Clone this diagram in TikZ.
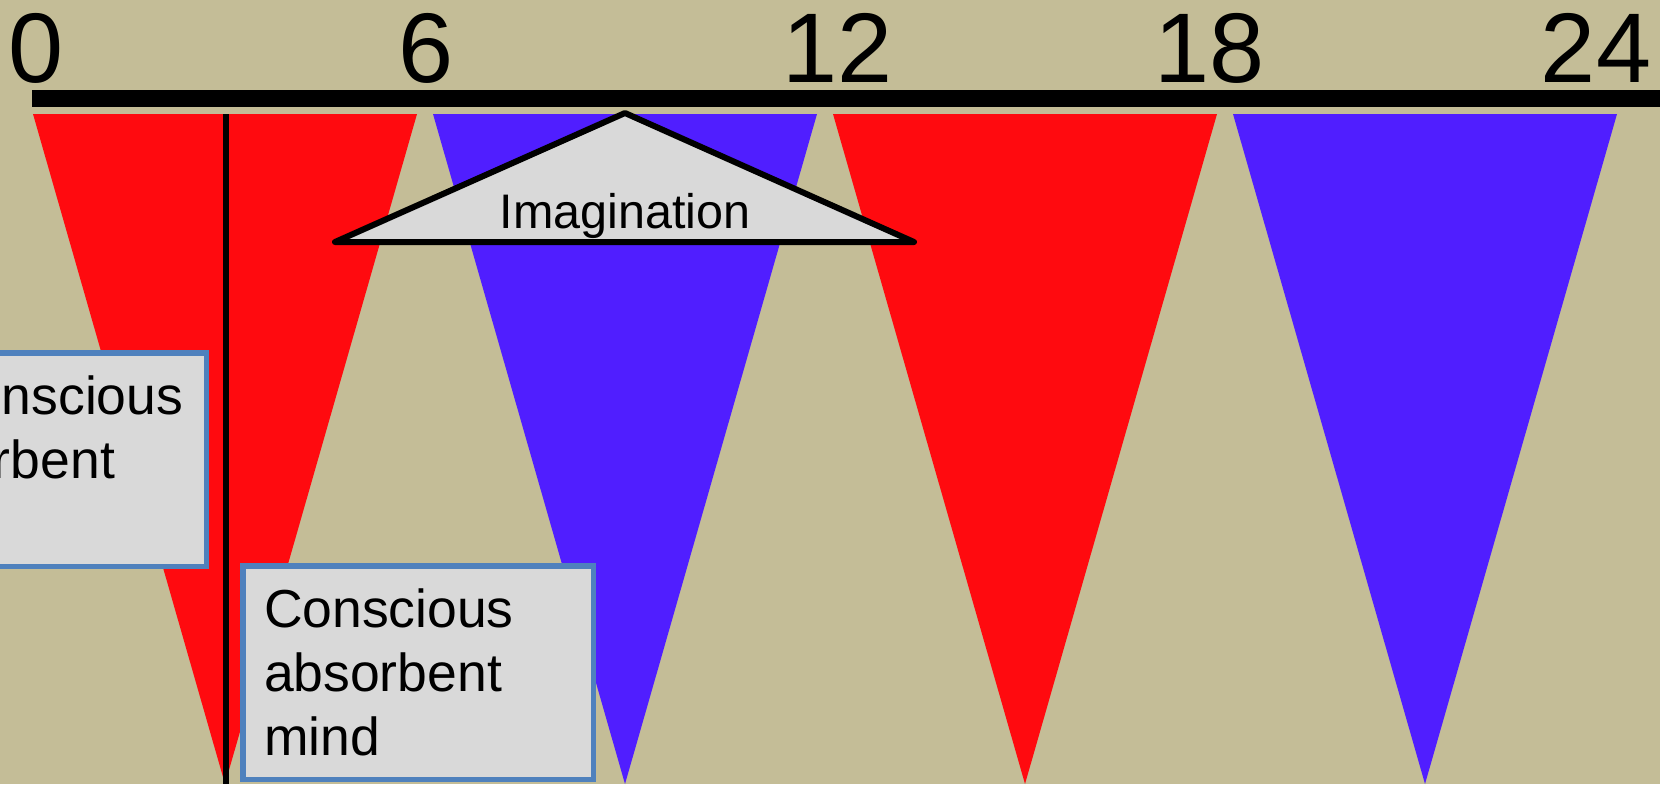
\documentclass[tikz,border=0pt]{standalone}
\usepackage{fontspec}
\setmainfont{Liberation Sans}
\usepackage{tikz}
\usepackage{xcolor}
\usetikzlibrary{positioning}

\definecolor{bgtan}{HTML}{C4BD97}
\definecolor{tred}{HTML}{FF0A0F}
\definecolor{tblue}{HTML}{501EFF}
\definecolor{boxgray}{HTML}{D9D9D9}
\definecolor{boxedge}{HTML}{4F81BD}

\begin{document}
\begin{tikzpicture}[
    x=0.5pt, y=-0.5pt,
    hour/.style={font=\fontsize{49.5pt}{58pt}\selectfont, anchor=base, inner sep=0pt},
    mindbox/.style={
        draw=boxedge, fill=boxgray, line width=2.75pt,
        text width=154pt, align=left, inner xsep=10.5pt, inner ysep=0pt,
        minimum width=175.25pt, minimum height=106.75pt,
        font=\fontsize{26.75pt}{32pt}\selectfont
    },
    wedge/.style={line width=3pt, line join=round, fill=boxgray},
]
\useasboundingbox (0,0) rectangle (1660,784);
\fill[bgtan] (0,0) rectangle (1660,784);

% --- time axis ---
\draw[line width=8.5pt] (32,98.5) -- (1660,98.5);
\foreach \x/\t in {36.5/0, 426/6, 837.5/12, 1210/18, 1596/24}
    \node[hour] (h\t) at (\x,82) {\t};

% --- planes of development ---
\foreach \k/\c in {0/tred, 1/tblue, 2/tred, 3/tblue}
    \fill[\c] ({33+400*\k},114) -- ({417+400*\k},114) -- ({225+400*\k},784) -- cycle;

\draw[line width=3pt] (226,114) -- (226,784);

% --- imagination ---
\draw[wedge] (625,113) -- (914,242) -- (335,242) -- cycle;
\node[font=\fontsize{24.25pt}{29pt}\selectfont, anchor=base] (imag) at (625,228) {Imagination};

% --- absorbent mind ---
\node[mindbox] (uncon) at (31,459.7) {Unconscious\\absorbent\\mind};
\node[mindbox] (con) at (418,672.5) {Conscious\\absorbent\\mind};

\end{tikzpicture}
\end{document}
